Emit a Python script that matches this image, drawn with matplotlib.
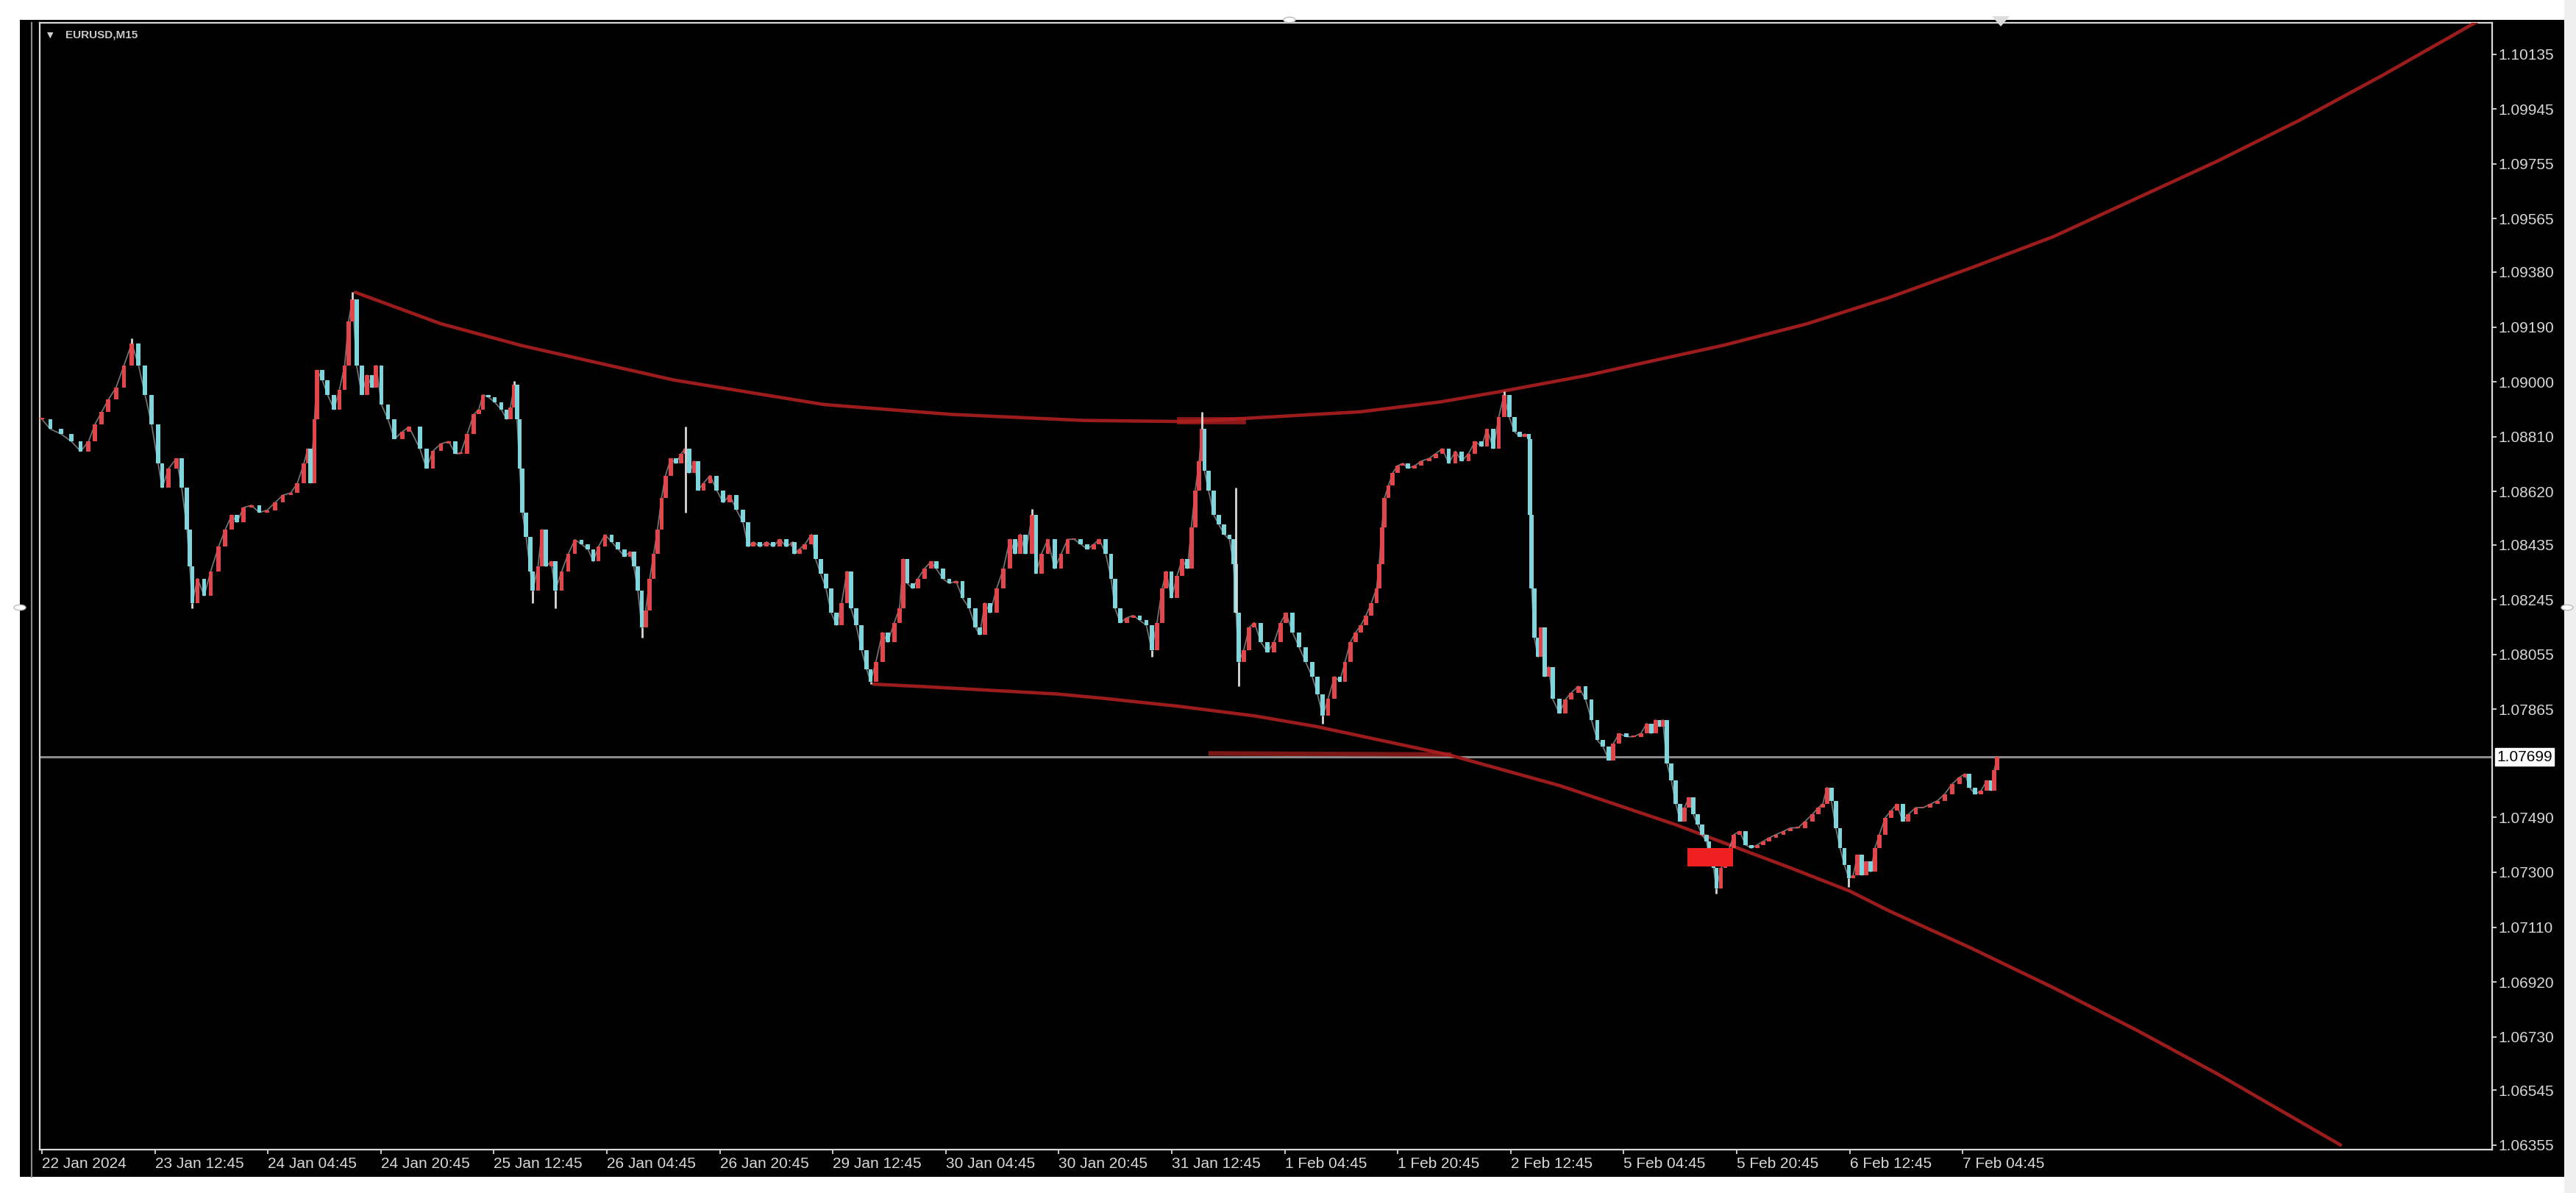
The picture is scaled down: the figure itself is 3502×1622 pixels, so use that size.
import matplotlib
matplotlib.use("Agg")
import matplotlib.pyplot as plt
from matplotlib.patches import Rectangle, Circle, Polygon
from matplotlib.lines import Line2D
import numpy as np

W, H, DPI = 3502, 1622, 100

# ---------------- data ----------------
symbol_label = "EURUSD,M15"
current_price = 1.07699
price_ticks = [1.10135, 1.09945, 1.09755, 1.09565, 1.09380, 1.09190, 1.09000,
               1.08810, 1.08620, 1.08435, 1.08245, 1.08055, 1.07865, 1.07490,
               1.07300, 1.07110, 1.06920, 1.06730, 1.06545, 1.06355]
time_labels = ["22 Jan 2024", "23 Jan 12:45", "24 Jan 04:45", "24 Jan 20:45",
               "25 Jan 12:45", "26 Jan 04:45", "26 Jan 20:45", "29 Jan 12:45",
               "30 Jan 04:45", "30 Jan 20:45", "31 Jan 12:45", "1 Feb 04:45",
               "1 Feb 20:45", "2 Feb 12:45", "5 Feb 04:45", "5 Feb 20:45",
               "6 Feb 12:45", "7 Feb 04:45"]
bars_per_label = 64

# price path (M15 bar index, close price)
bar_pos = [
    0.0, 4.8, 10.8, 16.7, 21.9, 26.4, 30.1, 33.8, 37.6, 42.0, 46.5, 50.9, 54.7, 58.4,
    62.1, 65.8, 68.1, 71.8, 76.2, 79.2, 82.2, 83.7, 85.2, 88.1, 91.9, 95.6, 100.0,
    103.8, 107.5, 110.5, 114.2, 118.7, 123.1, 127.6, 132.0, 136.5, 141.0, 144.7, 148.4,
    150.6, 152.1, 154.4, 155.9, 158.8, 161.8, 165.5, 168.5, 171.5, 173.7, 175.9, 178.2,
    181.2, 184.1, 187.1, 189.3, 192.3, 196.0, 199.7, 204.2, 207.9,
    214.1, 217.8, 221.5, 226.0, 230.4, 234.2, 237.1, 240.9, 244.6, 247.5, 249.8, 252.8,
    256.5, 260.2, 263.2, 265.4, 267.6, 269.1, 270.6, 272.1, 274.3, 276.6, 278.0, 281.0,
    283.3, 285.5, 288.5, 290.7, 294.4, 298.1, 301.9, 305.6, 309.3, 312.3, 315.2, 319.0,
    322.7, 326.4, 330.1, 333.1, 335.3, 337.6, 339.8, 342.0, 344.3, 346.5, 348.7, 351.0,
    353.2, 356.2, 359.1, 362.1, 364.4, 366.6, 369.6, 371.8, 374.8, 378.5, 382.2, 385.9,
    389.6, 393.4, 397.1, 400.1, 403.0, 406.8, 410.5, 414.2, 417.9, 421.7, 425.4,
    426.3, 429.2, 432.2, 435.9, 438.2, 441.1, 444.1, 447.1, 450.1, 453.0, 456.0, 458.2,
    461.2, 464.2, 467.2, 469.4, 472.4, 476.1, 479.1, 482.8, 485.8, 488.0, 490.2, 493.2,
    496.2, 499.9, 503.6, 506.6, 510.3, 514.0, 517.8, 521.5, 525.2, 528.9, 531.2, 534.1,
    537.1, 540.8, 544.6, 548.3, 551.2, 554.2, 557.2, 560.9, 563.1, 566.1, 569.8, 573.6,
    577.3, 581.0, 584.7, 588.4, 592.2, 595.9, 598.9, 602.6, 605.6, 607.8, 610.8, 614.5,
    618.2, 621.9, 625.6, 628.6, 631.6, 634.6, 636.8, 639.8,
    642.9, 645.9, 648.9, 651.1, 653.3, 655.5, 657.0, 658.5, 660.8, 663.7, 666.7, 669.7,
    672.7, 674.9, 676.4, 677.9, 680.8, 683.8, 686.8, 690.5, 694.2, 697.9, 701.7, 704.7,
    708.4, 712.1, 715.8, 719.5, 722.5, 725.5, 728.5, 732.2, 735.2, 738.1, 741.1, 744.1,
    747.1, 750.0, 753.0, 756.0, 757.5, 759.0, 760.5, 762.7, 765.0, 767.9, 770.9, 773.8,
    777.6, 781.3, 785.7, 789.5, 793.2, 796.9, 800.6, 804.3, 808.1, 811.8, 815.5, 818.5,
    822.2, 825.2, 828.2, 831.1, 834.1, 837.1, 840.1, 842.3, 843.0, 843.8, 845.3, 847.5,
    849.0, 851.2, 853.5, 855.7,
    859.6, 862.9, 866.2, 870.3, 874.4, 877.7, 881.0, 884.3, 887.6, 890.1, 893.4, 897.5,
    901.6, 905.7, 909.0, 911.5, 914.0, 916.4, 918.1, 920.5, 923.0, 925.5, 928.0, 930.4,
    932.9, 935.4, 937.8, 940.3, 942.8, 944.4, 946.9, 948.5, 951.0, 953.5, 955.9, 958.4,
    961.7, 965.0, 968.3, 971.6, 974.9, 978.2, 982.3, 986.4, 990.5, 994.7, 998.8, 1002.9,
    1006.2, 1008.7, 1011.1, 1013.6, 1016.1, 1018.5, 1021.0, 1023.5, 1026.0, 1028.4,
    1030.9, 1033.4, 1035.8, 1038.3, 1040.8, 1044.1, 1047.4, 1050.7, 1054.0, 1057.2,
    1061.4, 1065.5, 1069.6, 1073.7, 1077.8, 1082.0, 1086.1, 1089.4, 1091.8, 1095.1,
    1098.4, 1101.7, 1104.2, 1105.8, 1107.5]
close_px = [
    1.08870, 1.08836, 1.08819, 1.08793, 1.08759, 1.08793, 1.08853, 1.08895, 1.08938, 1.08980,
    1.09057, 1.09133, 1.09057, 1.08955, 1.08853, 1.08717, 1.08632, 1.08700, 1.08734, 1.08632,
    1.08487, 1.08360, 1.08233, 1.08318, 1.08258, 1.08343, 1.08428, 1.08487, 1.08538, 1.08513,
    1.08564, 1.08572, 1.08547, 1.08555, 1.08581, 1.08607, 1.08615, 1.08649, 1.08717, 1.08768,
    1.08649, 1.08870, 1.09040, 1.09006, 1.08955, 1.08904, 1.08972, 1.09057, 1.09210, 1.09286,
    1.09057, 1.08955, 1.09023, 1.08980, 1.09057, 1.08921, 1.08870, 1.08802, 1.08827, 1.08844,
    1.08768, 1.08700, 1.08760, 1.08785, 1.08793, 1.08751, 1.08751, 1.08819, 1.08887, 1.08904,
    1.08955, 1.08947, 1.08929, 1.08904, 1.08870, 1.08912, 1.08989, 1.08870, 1.08700, 1.08547,
    1.08462, 1.08343, 1.08275, 1.08360, 1.08488, 1.08360, 1.08377, 1.08275, 1.08343, 1.08403,
    1.08453, 1.08437, 1.08420, 1.08377, 1.08428, 1.08470, 1.08445, 1.08420, 1.08394, 1.08411,
    1.08360, 1.08275, 1.08148, 1.08207, 1.08318, 1.08403, 1.08488, 1.08598, 1.08675, 1.08734,
    1.08717, 1.08751, 1.08768, 1.08683, 1.08725, 1.08624, 1.08649, 1.08675, 1.08624, 1.08581,
    1.08607, 1.08556, 1.08513, 1.08428, 1.08445, 1.08428, 1.08445, 1.08428, 1.08454, 1.08428,
    1.08445,
    1.08403, 1.08420, 1.08437, 1.08471, 1.08386, 1.08335, 1.08284, 1.08199, 1.08156, 1.08233,
    1.08343, 1.08216, 1.08156, 1.08071, 1.08003, 1.07961, 1.08029, 1.08131, 1.08097, 1.08165,
    1.08216, 1.08386, 1.08301, 1.08284, 1.08318, 1.08352, 1.08377, 1.08352, 1.08318, 1.08301,
    1.08309, 1.08250, 1.08216, 1.08148, 1.08122, 1.08233, 1.08199, 1.08284, 1.08352, 1.08454,
    1.08403, 1.08471, 1.08403, 1.08539, 1.08335, 1.08403, 1.08454, 1.08352, 1.08403, 1.08454,
    1.08454, 1.08437, 1.08420, 1.08437, 1.08454, 1.08403, 1.08318, 1.08216, 1.08165, 1.08182,
    1.08190, 1.08173, 1.08156, 1.08071, 1.08165, 1.08284, 1.08343, 1.08250,
    1.08326, 1.08386, 1.08352, 1.08496, 1.08624, 1.08725, 1.08836, 1.08691, 1.08624, 1.08539,
    1.08505, 1.08471, 1.08454, 1.08369, 1.08199, 1.08029, 1.08071, 1.08148, 1.08165, 1.08097,
    1.08063, 1.08097, 1.08165, 1.08199, 1.08131, 1.08080, 1.08029, 1.07978, 1.07918, 1.07842,
    1.07901, 1.07978, 1.07961, 1.08029, 1.08097, 1.08131, 1.08156, 1.08190, 1.08233, 1.08284,
    1.08369, 1.08496, 1.08598, 1.08640, 1.08683, 1.08709, 1.08717, 1.08700, 1.08709, 1.08725,
    1.08734, 1.08751, 1.08768, 1.08717, 1.08759, 1.08725, 1.08751, 1.08793, 1.08776, 1.08836,
    1.08768, 1.08878, 1.08955, 1.08878, 1.08827, 1.08810, 1.08819, 1.08802, 1.08539, 1.08284,
    1.08114, 1.08046, 1.08148, 1.07978, 1.08012, 1.07901,
    1.07851, 1.07898, 1.07922, 1.07945, 1.07898, 1.07828, 1.07758, 1.07735, 1.07688, 1.07746,
    1.07781, 1.07770, 1.07770, 1.07781, 1.07816, 1.07781, 1.07828, 1.07805, 1.07828, 1.07676,
    1.07618, 1.07536, 1.07477, 1.07524, 1.07559, 1.07501, 1.07466, 1.07431, 1.07407, 1.07360,
    1.07314, 1.07243, 1.07314, 1.07337, 1.07384, 1.07431, 1.07442, 1.07395, 1.07384, 1.07395,
    1.07407, 1.07419, 1.07431, 1.07442, 1.07454, 1.07454, 1.07477, 1.07501, 1.07524, 1.07536,
    1.07594, 1.07548, 1.07454, 1.07384, 1.07325, 1.07279, 1.07290, 1.07360, 1.07290, 1.07337,
    1.07302, 1.07384, 1.07431, 1.07489, 1.07513, 1.07536, 1.07477, 1.07501, 1.07524, 1.07524,
    1.07536, 1.07548, 1.07571, 1.07606, 1.07629, 1.07641, 1.07594, 1.07571, 1.07583, 1.07618,
    1.07583, 1.07653, 1.07699]

# long wicks (bar index, extreme price)
spike_bars = [50.9, 85.2, 175.9, 267.6, 278.0, 290.7, 339.8, 364.4, 364.4, 469.4,
              560.9, 628.6, 657.0, 676.4, 677.9, 725.5, 828.2, 948.5, 1023.5]
spike_px = [1.09150, 1.08216, 1.09312, 1.09002, 1.08233, 1.08216, 1.08114, 1.08844,
            1.08547, 1.07952, 1.08560, 1.08046, 1.08895, 1.08632, 1.07944, 1.07816,
            1.08968, 1.07226, 1.07249]

# hand-drawn red curves
upper_curve_bars = [177.5, 226, 272, 358, 443, 515, 590, 650, 747, 792, 828, 876,
                    906.8, 952.9, 999.9, 1046.4, 1092.9, 1139.4, 1185.9, 1232.4,
                    1279.0, 1325.5, 1381.3]
upper_curve_px = [1.09310, 1.09201, 1.09125, 1.09006, 1.08921, 1.08887, 1.08866,
                  1.08862, 1.08896, 1.08930, 1.08968, 1.09023, 1.09065, 1.09127,
                  1.09201, 1.09292, 1.09395, 1.09503, 1.09634, 1.09765, 1.09907,
                  1.10061, 1.10255]
lower_curve_bars = [471, 498, 575, 601, 643, 687, 722, 797, 860, 925, 991, 1024,
                    1046.4, 1092.9, 1139.4, 1185.9, 1232.4, 1302]
lower_curve_px = [1.07952, 1.07944, 1.07918, 1.07903, 1.07876, 1.07842, 1.07805,
                  1.07707, 1.07600, 1.07466, 1.07314, 1.07235, 1.07166, 1.07037,
                  1.06900, 1.06755, 1.06601, 1.06355]
red_hseg1_bars = [645, 680]
red_hseg1_px = [1.08866, 1.08866]
red_hseg2_bars = [662, 797]
red_hseg2_px = [1.07712, 1.07708]
red_zone_bars = [932, 958]
red_zone_px = [1.07320, 1.07384]

# ---------------- figure ----------------
fig = plt.figure(figsize=(W / DPI, H / DPI), dpi=DPI, facecolor="white")

def fx(px):
    return px / W

def fy(py):
    return 1 - py / H

# black terminal background (behind the axes)
fig.patches.append(Rectangle((fx(27), fy(1600)), fx(3486 - 27), (1600 - 27) / H,
                             transform=fig.transFigure, facecolor="black",
                             edgecolor="none", zorder=-5))
fig.patches.append(Rectangle((fx(3486), 0), fx(W - 3486), 1,
                             transform=fig.transFigure, facecolor="#efefef",
                             edgecolor="none", zorder=-5))
fig.lines.append(Line2D([fx(43), fx(43)], [fy(31), fy(1600)], transform=fig.transFigure,
                        color="#8c8c8c", lw=1.5, zorder=-4))

ax_l, ax_r, ax_t, ax_b = 54, 3388, 31, 1563
ax = fig.add_axes([fx(ax_l), fy(ax_b), fx(ax_r - ax_l), (ax_b - ax_t) / H])
ax.set_zorder(1)
ax.set_facecolor("black")
ax.set_xlim(-1.25, 1387.9)
ax.set_ylim(1.06339, 1.10244)
for s in ax.spines.values():
    s.set_color("#d8d8d8")
    s.set_linewidth(1.6)

# current price line
ax.axhline(current_price, color="#8a8a8a", lw=2.2, zorder=2)

# red drawings
red = "#9c1c1e"
ax.plot(upper_curve_bars, upper_curve_px, color=red, lw=3.3, solid_capstyle="round",
        solid_joinstyle="round", zorder=3)
ax.plot(lower_curve_bars, lower_curve_px, color=red, lw=3.3, solid_capstyle="round",
        solid_joinstyle="round", zorder=3)
ax.plot(red_hseg1_bars, red_hseg1_px, color="#b02020", lw=7, alpha=0.8, zorder=3)
ax.plot(red_hseg2_bars, red_hseg2_px, color="#b02020", lw=4.5, alpha=0.7, zorder=3)
ax.add_patch(Rectangle((red_zone_bars[0], red_zone_px[0]),
                       red_zone_bars[1] - red_zone_bars[0],
                       red_zone_px[1] - red_zone_px[0],
                       facecolor="#ee2020", edgecolor="none", zorder=5))

# candles
bars = np.array(bar_pos)
closes = np.array(close_px)
opens = np.r_[closes[0], closes[:-1]]
lo = np.minimum(opens, closes)
hi = np.maximum(opens, closes)
height = np.maximum(hi - lo, 0.00004)
bull, bear = "#e2454a", "#7ed6dc"
colors = np.where(closes >= opens, bull, bear)
ax.plot(bars, closes, color="#cfcfcf", lw=1.3, alpha=0.55, zorder=4)
ax.bar(bars, height, bottom=lo, width=2.4, color=colors, linewidth=0, zorder=4)

# long wicks
sb = np.array(spike_bars)
idx = np.array([np.argmin(np.abs(bars - b)) for b in sb])
ax.vlines(sb, closes[idx], spike_px, color="#d8d8d8", lw=2, zorder=4)

# axes ticks
tick_font = dict(family=["Liberation Sans", "DejaVu Sans"], size=15)
ax.yaxis.tick_right()
ax.set_yticks(price_ticks)
ax.set_yticklabels([f"{p:.5f}" for p in price_ticks], **tick_font)
ax.tick_params(axis="y", colors="#d8d8d8", length=4, width=1.3, pad=2, labelcolor="#d8d8d8")
ax.set_xticks([k * bars_per_label for k in range(len(time_labels))])
ax.set_xticklabels(time_labels, ha="left", **tick_font)
ax.tick_params(axis="x", colors="#d8d8d8", length=4, width=1.3, pad=3, labelcolor="#d8d8d8")

# current price label
ax.annotate(f"{current_price:.5f}", xy=(1, current_price),
            xycoords=("axes fraction", "data"), xytext=(6, 0),
            textcoords="offset pixels", ha="left", va="center", color="black",
            fontsize=15, family=["Liberation Sans", "DejaVu Sans"],
            bbox=dict(boxstyle="square,pad=0.12", fc="white", ec="white"), zorder=10,
            annotation_clip=False)

# symbol caption
fig.text(fx(64), fy(48), "\u25bc", color="#d0d0d0", fontsize=8, va="center", ha="left", zorder=5)
fig.text(fx(89), fy(48), symbol_label, color="#c8c8c8", fontsize=11,
         fontweight="bold", va="center", ha="left", zorder=5,
         family=["Liberation Sans", "DejaVu Sans"])

# window handles of the screenshot
for cx, cy in [(1753, 27), (27, 826), (3490, 826)]:
    fig.patches.append(Circle((fx(cx), fy(cy)), 8 / W, transform=fig.transFigure,
                              facecolor="white", edgecolor="#bbbbbb", lw=1, zorder=20))
fig.patches.append(Polygon([(fx(2708), fy(22)), (fx(2732), fy(22)), (fx(2720), fy(36))],
                           closed=True, transform=fig.transFigure,
                           facecolor="#dddddd", edgecolor="none", zorder=20))

fig.savefig("out.png", dpi=DPI, facecolor="white")
